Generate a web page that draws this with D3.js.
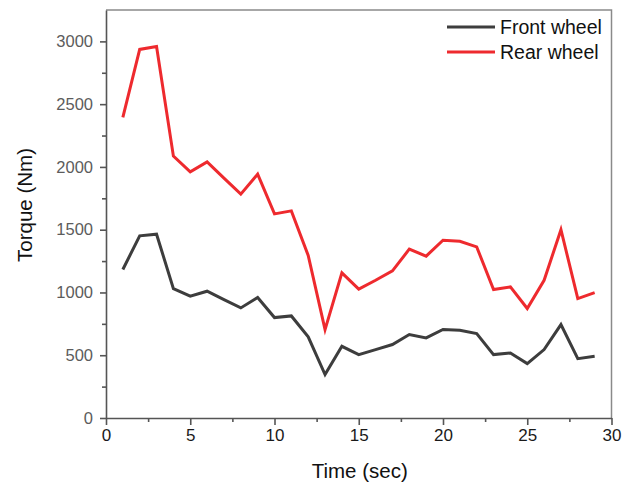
<!DOCTYPE html>
<html>
<head>
<meta charset="utf-8">
<script src="https://cdn.jsdelivr.net/npm/d3@7"></script>
<style>
  html, body { margin: 0; padding: 0; background: #fff; }
  svg { display: block; font-family: "Liberation Sans", Arial, sans-serif; }
</style>
</head>
<body>
<svg id="chart" width="624" height="486"></svg>
<script>
// Time samples (s)
const time = [1,2,3,4,5,6,7,8,9,10,11,12,13,14,15,16,17,18,19,20,21,22,23,24,25,26,27,28,29];
// Wheel torque (Nm)
const frontWheel = [1183,1451,1464,1031,970,1010,943,877,960,800,813,646,346,571,505,545,585,665,638,705,699,673,505,518,433,545,744,473,492];
const rearWheel  = [2394,2936,2960,2086,1961,2040,1911,1783,1942,1626,1650,1295,704,1156,1026,1097,1172,1345,1289,1416,1408,1363,1023,1044,872,1097,1500,951,999];
const seriesNames = ["Front wheel", "Rear wheel"];
const seriesColors = ["#3d3d3d", "#ee2a2e"];
const xMajorTicks = [0,5,10,15,20,25,30];
const xMinorTicks = [2.5,7.5,12.5,17.5,22.5,27.5];
const yMajorTicks = [0,500,1000,1500,2000,2500,3000];
const yMinorTicks = [250,750,1250,1750,2250,2750];

const svg = d3.select("#chart");
const plotLeft = 106, plotRight = 611.5, plotTop = 10, plotBottom = 418;

const x = d3.scaleLinear().domain([0, 30]).range([plotLeft, plotRight]);
const y = d3.scaleLinear().domain([0, 3250]).range([plotBottom, plotTop]);

const axisColor = "#555";

// Frame (top and right edges)
svg.append("path")
  .attr("d", `M${plotLeft},${plotTop}H${plotRight}V${plotBottom}`)
  .attr("fill", "none").attr("stroke", "#8a8a8a").attr("stroke-width", 1.5);

// X axis
const gx = svg.append("g").attr("transform", `translate(0,${plotBottom})`);
gx.call(d3.axisBottom(x).tickValues(xMajorTicks).tickSize(7).tickSizeOuter(0).tickPadding(4).tickFormat(d3.format("d")));
gx.append("g").call(d3.axisBottom(x).tickValues(xMinorTicks).tickSize(4).tickSizeOuter(0).tickFormat(""))
  .select(".domain").remove();
gx.selectAll(".domain, line").attr("stroke", axisColor).attr("stroke-width", 1.6);
gx.selectAll("text").attr("font-size", 17).attr("fill", "#1a1a1a")
  .attr("font-family", "Liberation Sans, Arial, sans-serif");

// Y axis
const gy = svg.append("g").attr("transform", `translate(${plotLeft},0)`);
gy.call(d3.axisLeft(y).tickValues(yMajorTicks).tickSize(6).tickSizeOuter(0).tickPadding(7).tickFormat(d3.format("d")));
gy.append("g").call(d3.axisLeft(y).tickValues(yMinorTicks).tickSize(4).tickSizeOuter(0).tickFormat(""))
  .select(".domain").remove();
gy.selectAll(".domain, line").attr("stroke", axisColor).attr("stroke-width", 1.6);
gy.selectAll("text").attr("font-size", 16.5).attr("fill", "#5c5c5c")
  .attr("font-family", "Liberation Sans, Arial, sans-serif");

// Axis titles
svg.append("text")
  .attr("x", (plotLeft + plotRight) / 2 + 1).attr("y", 478)
  .attr("text-anchor", "middle").attr("font-size", 20.5).attr("fill", "#111")
  .text("Time (sec)");
svg.append("text")
  .attr("transform", `translate(32,205) rotate(-90)`)
  .attr("text-anchor", "middle").attr("font-size", 20.5).attr("fill", "#111")
  .text("Torque (Nm)");

// Lines
const line = d3.line().x((d, i) => x(time[i])).y(d => y(d));
[frontWheel, rearWheel].forEach((vals, k) => {
  svg.append("path")
    .datum(vals)
    .attr("d", line)
    .attr("fill", "none")
    .attr("stroke", seriesColors[k])
    .attr("stroke-width", 3)
    .attr("stroke-linejoin", "miter");
});

// Legend
const legend = svg.append("g");
seriesNames.forEach((name, k) => {
  const ly = 27 + k * 25;
  legend.append("line")
    .attr("x1", 447).attr("x2", 495).attr("y1", ly).attr("y2", ly)
    .attr("stroke", seriesColors[k]).attr("stroke-width", 3);
  legend.append("text")
    .attr("x", 500).attr("y", ly + 7)
    .attr("font-size", 19.5).attr("fill", "#111")
    .text(name);
});
</script>
</body>
</html>
